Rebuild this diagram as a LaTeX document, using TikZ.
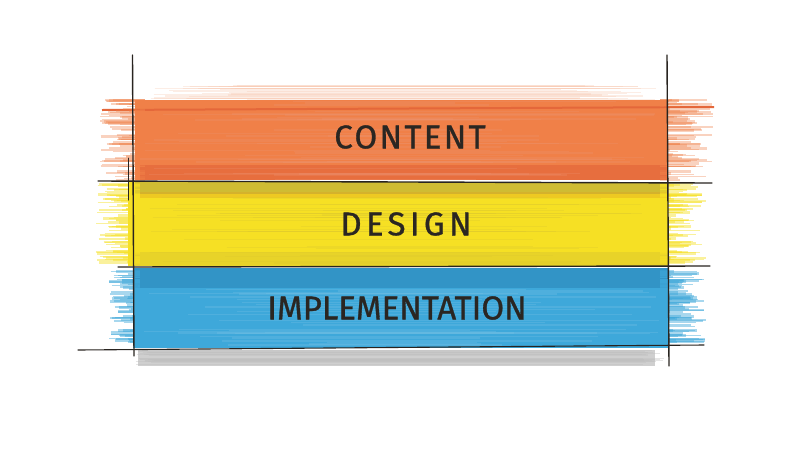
\documentclass[tikz,border=0pt]{standalone}
\usepackage{fontspec}
\setmainfont{Fira Sans}
\newfontfamily\lblfontA{Fira Sans}[LetterSpace=7, FakeBold=0.9]
\newfontfamily\lblfontB{Fira Sans}[LetterSpace=13, FakeBold=0.9]
\newfontfamily\lblfontC{Fira Sans}[LetterSpace=0, FakeBold=0.9]
\begin{document}
\begin{tikzpicture}[x=1pt,y=-1pt,
  lbl/.style={text=ink},
  ruleline/.style={draw=ink!95!black, line width=1.4pt, line cap=round}]
\definecolor{ink}{HTML}{2A2622}
\definecolor{orA}{HTML}{F08048}
\definecolor{orB}{HTML}{E4673A}
\definecolor{yeA}{HTML}{F6E024}
\definecolor{yeB}{HTML}{C9B636}
\definecolor{yeC}{HTML}{E0A020}
\definecolor{blA}{HTML}{3EA8DA}
\definecolor{blB}{HTML}{2F8FC2}
\definecolor{grA}{HTML}{CFCFCF}
\useasboundingbox (0,0) rectangle (800,448);
\fill[white] (0,0) rectangle (800,448);
\pgfmathsetseed{11}
% ---- grey shadow
\fill[grA] (138,350) rectangle (655,366);
\foreach \i in {1,...,25}{
  \pgfmathsetmacro\yy{350+rnd*16}
  \pgfmathsetmacro\xa{135+rnd*20}
  \pgfmathsetmacro\xb{640+rnd*25}
  \draw[grA!80!gray, line width=0.8pt, opacity=0.4] (\xa,\yy) -- (\xb,\yy);}
% ---- orange band
\foreach \i in {1,...,30}{
  \pgfmathsetmacro\yy{86+rnd*14}
  \pgfmathsetmacro\xa{150+rnd*100}
  \pgfmathsetmacro\xb{560+rnd*100}
  \draw[orA!40, line width=1.2pt, opacity=0.35] (\xa,\yy) -- (\xb,\yy);}
\fill[orA] (135,100) rectangle (668,180);
\fill[orB, opacity=0.7] (140,165) rectangle (668,180);
\draw[orB, line width=2pt] (102,110) -- (714,107);
\foreach \i in {1,...,90}{
  \pgfmathsetmacro\yy{100+rnd*80}
  \pgfmathsetmacro\xa{100+rnd*40}
  \pgfmathsetmacro\xb{668+rnd*45}
  \pgfmathsetmacro\w{0.6+rnd*2.2}
  \draw[orA, line width=\w pt, opacity=0.35] (\xa,\yy) -- (145,\yy);
  \draw[orA, line width=\w pt, opacity=0.35] (660,\yy) -- (\xb,\yy);}
\foreach \i in {1,...,40}{
  \pgfmathsetmacro\yy{100+rnd*80}
  \pgfmathsetmacro\xa{140+rnd*200}
  \pgfmathsetmacro\xb{450+rnd*210}
  \draw[orB!70!white, line width=1.5pt, opacity=0.25] (\xa,\yy) -- (\xb,\yy);}
% ---- yellow band
\fill[yeA] (128,182) rectangle (668,266);
\fill[yeB, opacity=0.85] (135,182) rectangle (668,194);
\fill[yeC, opacity=0.35] (140,192) rectangle (668,198);
\fill[yeB, opacity=0.3] (135,252) rectangle (668,266);
\foreach \i in {1,...,90}{
  \pgfmathsetmacro\yy{184+rnd*80}
  \pgfmathsetmacro\xa{95+rnd*38}
  \pgfmathsetmacro\xb{668+rnd*38}
  \pgfmathsetmacro\w{0.6+rnd*2.2}
  \draw[yeA, line width=\w pt, opacity=0.45] (\xa,\yy) -- (140,\yy);
  \draw[yeA, line width=\w pt, opacity=0.45] (660,\yy) -- (\xb,\yy);}
\foreach \i in {1,...,30}{
  \pgfmathsetmacro\yy{196+rnd*68}
  \pgfmathsetmacro\xa{140+rnd*200}
  \pgfmathsetmacro\xb{450+rnd*210}
  \draw[yeB!60!yeA, line width=1.2pt, opacity=0.3] (\xa,\yy) -- (\xb,\yy);}
% ---- blue band
\fill[blA] (133,268) rectangle (668,348);
\fill[blB, opacity=0.8] (135,268) rectangle (668,288);
\foreach \i in {1,...,90}{
  \pgfmathsetmacro\yy{270+rnd*72}
  \pgfmathsetmacro\xa{108+rnd*30}
  \pgfmathsetmacro\xb{668+rnd*38}
  \pgfmathsetmacro\w{0.6+rnd*2.2}
  \draw[blA, line width=\w pt, opacity=0.45] (\xa,\yy) -- (140,\yy);
  \draw[blA, line width=\w pt, opacity=0.45] (660,\yy) -- (\xb,\yy);}
\foreach \i in {1,...,30}{
  \pgfmathsetmacro\yy{288+rnd*58}
  \pgfmathsetmacro\xa{140+rnd*200}
  \pgfmathsetmacro\xb{450+rnd*210}
  \draw[blA!70!white, line width=1.4pt, opacity=0.3] (\xa,\yy) -- (\xb,\yy);}
% ---- black rules
\coordinate (vl1) at (132.5,55); \coordinate (vl2) at (134,356);
\coordinate (vr1) at (667,55);   \coordinate (vr2) at (669,366);
\coordinate (h1a) at (98,181);   \coordinate (h1b) at (712,183);
\coordinate (h2a) at (118,267);  \coordinate (h2b) at (710,266);
\coordinate (h3a) at (78,350);   \coordinate (h3b) at (704,345);
\coordinate (vs1) at (128,158);  \coordinate (vs2) at (128,200);
\draw[ruleline] (vl1) -- (vl2);
\draw[ruleline] (vr1) -- (vr2);
\draw[ruleline] (h1a) -- (h1b);
\draw[ruleline] (h2a) -- (h2b);
\draw[ruleline, line width=1.1pt] (h3a) -- (h3b);
\draw[ruleline, line width=1pt] (vs1) -- (vs2);
% ---- labels
\node[lbl, font=\lblfontA\fontsize{33}{33}\selectfont] (content) at (410,137) {CONTENT};
\node[lbl, font=\lblfontB\fontsize{33}{33}\selectfont] (design) at (406,224) {DESIGN};
\node[lbl, font=\lblfontC\fontsize{33}{33}\selectfont] (impl) at (397,308) {IMPLEMENTATION};
\end{tikzpicture}
\end{document}
